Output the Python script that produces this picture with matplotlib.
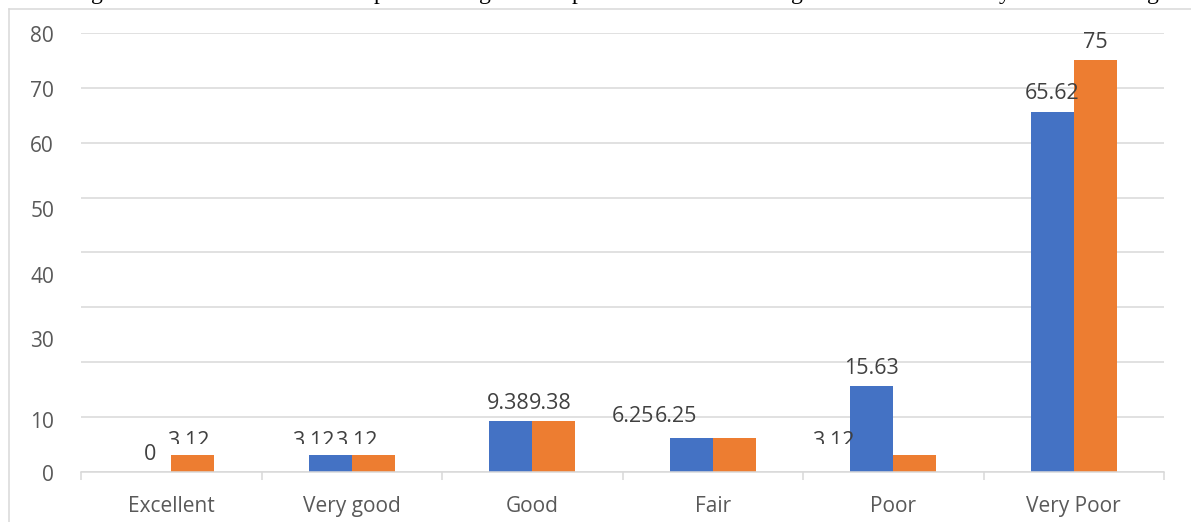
import numpy as np
import matplotlib.pyplot as plt
from matplotlib.transforms import Bbox, TransformedBbox
from matplotlib.lines import Line2D

categories = ["Excellent", "Very good", "Good", "Fair", "Poor", "Very Poor"]
series_a = [0, 3.12, 9.38, 6.25, 15.63, 65.62]
series_b = [3.12, 3.12, 9.38, 6.25, 3.12, 75]

y_tick_labels = ["0", "10", "30", "40", "50", "60", "70", "80"]
y_tick_spots = [-0.7, 9.1, 23.7, 35.5, 47.5, 59.4, 69.4, 79.45]

# hand-placed label nudges (pixels: dx, dy)
nudge_a = [(0, 0), (-17, -4.5), (-3, 0), (-58, 3.5), (0, 0), (0, 0.5)]
nudge_b = [(-4, -4.5), (-17, -4.5), (-3, 0), (-58, 3.5), (-81, -4.5), (0, 0)]

blue = "#4472c4"
orange = "#ed7d31"
grid_c = "#d9d9d9"
tick_c = "#595959"
label_c = "#404040"

plt.rcParams["font.family"] = ["Open Sans", "DejaVu Sans"]

W, H = 1191, 522
fig = plt.figure(figsize=(W / 100, H / 100), dpi=100)
ax = fig.add_axes([81 / W, (H - 472) / H, (1164 - 81) / W, (472 - 33) / H])

x = np.arange(len(categories))
bw = 0.238
ax.bar(x - bw / 2, series_a, bw, color=blue, zorder=2)
ax.bar(x + bw / 2, series_b, bw, color=orange, zorder=2)

ax.set_xlim(-0.5, len(categories) - 0.5)
ax.set_ylim(0, 80)

# gridlines every 10, labels drawn separately
ax.set_yticks(np.arange(0, 81, 10))
ax.set_yticklabels([])
ax.tick_params(axis="y", length=0)
ax.yaxis.grid(True, color=grid_c, linewidth=1.1, zorder=0)
ax.set_axisbelow(True)
for lab, yv in zip(y_tick_labels, y_tick_spots):
    ax.text(-0.5 - 27 / 180.5, yv, lab, ha="right", va="center",
            fontsize=15, color=tick_c)

ax.set_xticks(x)
ax.set_xticklabels(categories, fontsize=15, color=tick_c)
ax.tick_params(axis="x", length=0, pad=17)
ax.set_xticks(np.arange(-0.5, len(categories), 1), minor=True)
ax.tick_params(axis="x", which="minor", length=6, color=grid_c, width=1.1)

for s in ["top", "right", "left"]:
    ax.spines[s].set_visible(False)
ax.spines["bottom"].set_color(grid_c)
ax.spines["bottom"].set_linewidth(1.1)

# the small 3.12 labels lose their lower part
clip = TransformedBbox(Bbox([[-0.5, 5.1], [5.5, 80]]), ax.transData)


def put_labels(offset, values, nudges):
    for i, (v, (dx, dy)) in enumerate(zip(values, nudges)):
        a = ax.annotate(f"{v:g}", (x[i] + offset, v), xytext=(dx, 17.5 + dy),
                        textcoords="offset pixels", ha="center", va="center",
                        fontsize=15.5, color=label_c, zorder=3)
        if v == 3.12:
            a.set_clip_box(clip)
            a.set_clip_on(True)


put_labels(-bw / 2, series_a, nudges=nudge_a)
put_labels(bw / 2, series_b, nudges=nudge_b)

# chart frame (left and top edges)
fig.add_artist(Line2D([9 / W, 9 / W], [0, 1 - 9 / H], color=grid_c, linewidth=1.1))
fig.add_artist(Line2D([9 / W, 1], [1 - 9 / H, 1 - 9 / H], color=grid_c, linewidth=1.1))

# caption line above the chart
for ch, px in [("g", 97), ("p", 379), ("g", 485), ("p", 578), ("g", 797), ("y", 1005), ("g", 1153)]:
    fig.text(px / W, 1 + 1.5 / H, ch, ha="center", va="baseline",
             family="Liberation Serif", fontsize=17, color="black")

fig.savefig("out.png", dpi=100)
